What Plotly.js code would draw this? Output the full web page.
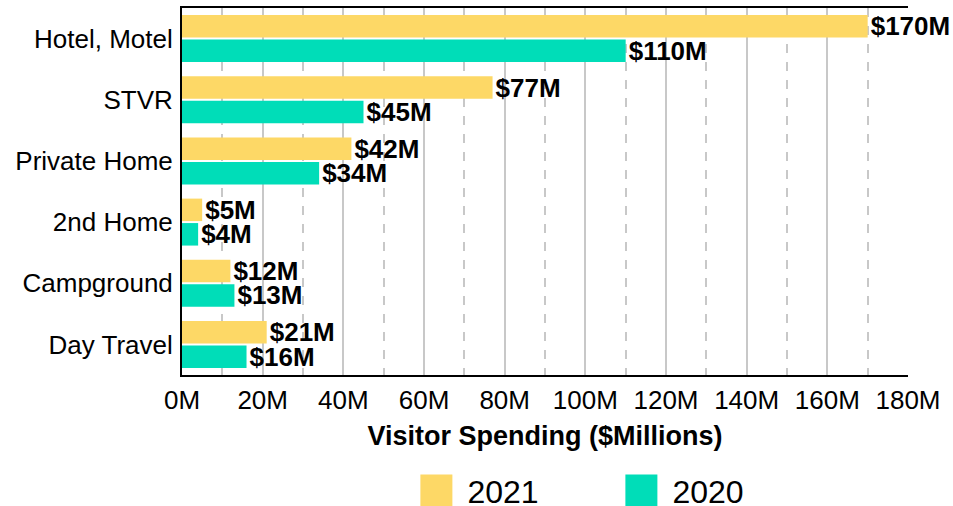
<!DOCTYPE html>
<html><head><meta charset="utf-8">
<script src="https://cdn.plot.ly/plotly-3.0.1.min.js"></script>
<style>html,body{margin:0;padding:0;background:#fff}</style>
</head><body>
<div id="chart" style="width:953px;height:506px"></div>
<script>
const categories = ["Hotel, Motel", "STVR", "Private Home", "2nd Home", "Campground", "Day Travel"];
const values2021 = [170, 77, 42, 5, 12, 21];
const values2020 = [110, 45, 34, 4, 13, 16];
const seriesNames = ["2021", "2020"];
const colors = ["#FDD866", "#00DDB8"];

const font = "Arial, 'Liberation Sans', sans-serif";
function mk(name, vals, color) {
  return {
    type: "bar", orientation: "h", name: name,
    y: categories, x: vals,
    marker: {color: color},
    text: vals.map(v => "$" + v + "M"),
    textposition: "outside", cliponaxis: false, constraintext: "none",
    textfont: {family: font, size: 26, color: "#000", weight: "bold"},
    hoverinfo: "x"
  };
}
const data = [mk(seriesNames[0], values2021, colors[0]), mk(seriesNames[1], values2020, colors[1])];

const layout = {
  width: 953, height: 506,
  margin: {l: 182, r: 45, t: 8, b: 131, autoexpand: false},
  barmode: "group", bargap: 0.2, bargroupgap: 0.08,
  paper_bgcolor: "#fff", plot_bgcolor: "#fff",
  font: {family: font, color: "#000", size: 26},
  xaxis: {
    range: [0, 180], dtick: 20, ticksuffix: "M",
    showgrid: true, gridcolor: "#c8c8c8", gridwidth: 2,
    minor: {dtick: 10, showgrid: true, gridcolor: "#c8c8c8", griddash: "dash", gridwidth: 1.5},
    showline: true, linecolor: "#000", linewidth: 2, mirror: true,
    zeroline: false, ticks: "", ticklabelstandoff: 1,
    tickfont: {size: 26},
    title: {text: "Visitor Spending ($Millions)", font: {size: 27, weight: "bold"}, standoff: 12}
  },
  yaxis: {
    autorange: "reversed", showline: true, linecolor: "#000", linewidth: 2,
    showgrid: false, ticks: "", ticklabelstandoff: 2, tickfont: {size: 26}
  },
  showlegend: true,
  legend: {orientation: "h", x: 0.338, xanchor: "left", y: -0.240, yanchor: "top",
    font: {size: 32}, entrywidth: 160, traceorder: "normal"}
};
function fixLegend() {
  document.querySelectorAll(".legend [clip-path]").forEach(e => e.removeAttribute("clip-path"));
  document.querySelectorAll(".legendpoints path").forEach(p => {
    p.setAttribute("d", "M5,16H-27V-16H5Z");
  });
}
Plotly.newPlot("chart", data, layout, {displayModeBar: false}).then(gd => {
  fixLegend();
  gd.on("plotly_afterplot", fixLegend);
});
</script>
</body></html>
